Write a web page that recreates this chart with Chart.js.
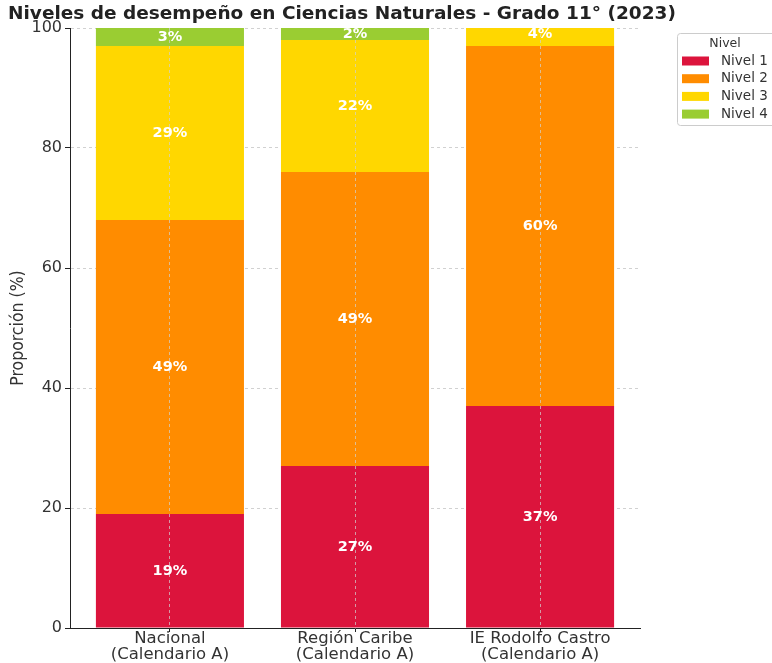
<!DOCTYPE html>
<html>
<head>
<meta charset="utf-8">
<script src="https://cdn.jsdelivr.net/npm/chart.js@4/dist/chart.umd.min.js"></script>
<style>
  body { margin: 0; background: #fff; }
  #wrap { width: 772px; height: 663px; }
</style>
</head>
<body>
<div id="wrap"><canvas id="myChart" width="772" height="663"></canvas></div>
<script>
var categories = [
  ["Nacional", "(Calendario A)"],
  ["Región Caribe", "(Calendario A)"],
  ["IE Rodolfo Castro", "(Calendario A)"]
];
var nivel1 = [19, 27, 37];
var nivel2 = [49, 49, 60];
var nivel3 = [29, 22, 4];
var nivel4 = [3, 2, 0];
var levelNames = ["Nivel 1", "Nivel 2", "Nivel 3", "Nivel 4"];
var levelColors = ["#DC143C", "#FF8C00", "#FFD700", "#9ACD32"];
var yTicks = [0, 20, 40, 60, 80, 100];
var titleText = "Niveles de desempeño en Ciencias Naturales - Grado 11° (2023)";

var FONT = "'DejaVu Sans', sans-serif";

function toPoints(arr) {
  return arr.map(function(v, i) { return { x: i, y: v }; });
}

var series = [nivel1, nivel2, nivel3, nivel4];
var datasets = series.map(function(arr, k) {
  return {
    label: levelNames[k],
    data: toPoints(arr),
    backgroundColor: levelColors[k],
    borderWidth: 0,
    categoryPercentage: 1,
    barPercentage: 0.8
  };
});

// titles, value labels and the legend box
var extras = {
  id: 'extras',
  afterDraw: function(chart) {
    var c = chart.ctx;
    c.save();
    c.fillStyle = '#222';
    c.font = "bold 18.5px " + FONT;
    c.textAlign = 'left';
    c.textBaseline = 'middle';
    c.fillText(titleText, 8, 14);

    // labels in the bars
    c.font = "bold 14.5px " + FONT;
    c.fillStyle = '#fff';
    c.textAlign = 'center';
    chart.data.datasets.forEach(function(ds, di) {
      var meta = chart.getDatasetMeta(di);
      meta.data.forEach(function(bar, i) {
        var v = ds.data[i].y;
        if (!v) return;
        var p = bar.getCenterPoint();
        c.fillText(v + '%', p.x, p.y);
      });
    });

    // legend
    var lx = 677, ly = 33, lw = 120, lh = 92;
    c.strokeStyle = '#ccc';
    c.lineWidth = 1;
    c.fillStyle = 'rgba(255,255,255,0.8)';
    c.beginPath();
    c.roundRect(lx + 0.5, ly + 0.5, lw, lh, 3);
    c.fill();
    c.stroke();
    c.fillStyle = '#333';
    c.font = "12.5px " + FONT;
    c.textAlign = 'center';
    c.fillText('Nivel', 725, 44);
    c.textAlign = 'left';
    c.font = "13.5px " + FONT;
    levelNames.forEach(function(n, k) {
      var yy = 61 + k * 17.7;
      c.fillStyle = levelColors[k];
      c.fillRect(682, yy - 4.5, 27, 9);
      c.fillStyle = '#333';
      c.fillText(n, 721, yy);
    });
    c.restore();
  }
};

var ctx = document.getElementById('myChart').getContext('2d');
var myChart = new Chart(ctx, {
  type: 'bar',
  data: { datasets: datasets },
  plugins: [extras],
  options: {
    responsive: false,
    animation: false,
    layout: { padding: { left: 8, right: 132, top: 28, bottom: 0 } },
    plugins: {
      legend: { display: false },
      title: { display: false },
      tooltip: { enabled: false }
    },
    scales: {
      x: {
        type: 'linear',
        stacked: true,
        offset: false,
        min: -0.54,
        max: 2.54,
        afterBuildTicks: function(scale) {
          scale.ticks = categories.map(function(c, i) { return { value: i }; });
        },
        afterFit: function(scale) { scale.height = 35; },
        ticks: {
          callback: function(v) { return categories[v]; },
          font: { family: FONT, size: 16.5, lineHeight: '16px' },
          color: '#333',
          padding: -1,
          maxRotation: 0,
          autoSkip: false
        },
        grid: {
          color: 'rgba(210,210,210,0.7)',
          tickColor: '#222',
          tickLength: 4,
          tickBorderDash: [],
          offset: false,
          z: 1
        },
        border: { color: '#222', width: 1, dash: [3, 3], z: 2 }
      },
      y: {
        stacked: true,
        min: 0,
        max: 100,
        afterBuildTicks: function(scale) {
          scale.ticks = yTicks.map(function(v) { return { value: v }; });
        },
        afterFit: function(scale) { scale.width = 62; },
        ticks: {
          font: { family: FONT, size: 16 },
          color: '#333',
          padding: 3
        },
        title: {
          display: true,
          text: 'Proporción (%)',
          font: { family: "'DejaVu Sans Condensed', 'DejaVu Sans', sans-serif", size: 17.5 },
          color: '#333',
          padding: { top: 0, bottom: 4 }
        },
        grid: {
          color: 'rgba(190,190,190,0.7)',
          tickColor: '#222',
          tickLength: 5,
          tickBorderDash: []
        },
        border: { color: '#222', width: 1, dash: [3, 3], z: 2 }
      }
    }
  }
});
</script>
</body>
</html>
